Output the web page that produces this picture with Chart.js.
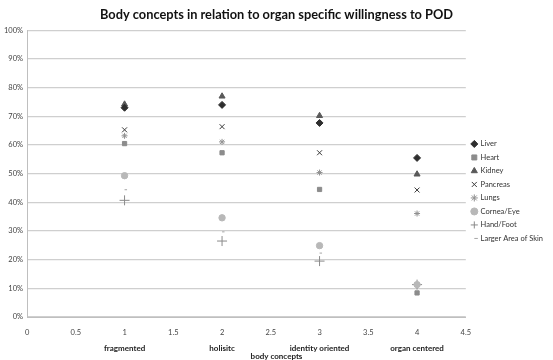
<!DOCTYPE html>
<html>
<head>
<meta charset="utf-8">
<script src="https://cdn.jsdelivr.net/npm/chart.js@4"></script>
<style>
  html, body { margin: 0; padding: 0; background: #fff; }
  #wrap { width: 553px; height: 360px; }
</style>
</head>
<body>
<div id="wrap"><canvas id="chart"></canvas></div>
<script>
// body concept categories (x = 1..4)
const categories = ['fragmented', 'holisitc', 'identity oriented', 'organ centered'];
const xValues = [1, 2, 3, 4];
const xAxisTitle = 'body concepts';

// share willing to donate, per organ
const liver    = [0.730, 0.740, 0.677, 0.555];
const heart    = [0.605, 0.573, 0.445, 0.084];
const kidney   = [0.742, 0.770, 0.702, 0.498];
const pancreas = [0.653, 0.664, 0.573, 0.443];
const lungs    = [0.632, 0.611, 0.504, 0.361];
const cornea   = [0.493, 0.346, 0.249, 0.113];
const handFoot = [0.407, 0.265, 0.195, 0.113];
const skin     = [0.444, 0.297, 0.223, 0.110];

const font = 'Lato, "Liberation Sans", sans-serif';

function pts(vals) {
  return vals.map((v, i) => ({ x: xValues[i], y: v }));
}

function series(label, vals, style, color, radius) {
  return {
    label: label,
    data: pts(vals),
    pointStyle: style,
    backgroundColor: color,
    borderColor: color,
    pointRadius: radius,
    pointHoverRadius: radius,
    pointBorderWidth: 1,
    showLine: false
  };
}

const datasets = [
  series('Liver', liver, 'rectRot', '#2e2e2e', 3.5),
  series('Heart', heart, 'rect', '#8c8c8c', 3),
  series('Kidney', kidney, 'triangle', '#595959', 3.5),
  series('Pancreas', pancreas, 'crossRot', '#3a3a3a', 3.5),
  series('Lungs', lungs, 'star', '#909090', 3),
  series('Cornea/Eye', cornea, 'circle', '#b8b8b8', 3.2),
  series('Hand/Foot', handFoot, 'cross', '#8a8a8a', 5),
  series('Larger Area of Skin', skin, 'dash', '#a6a6a6', 2.5)
];

// category names below the numeric x ticks, plus the axis title
const categoryLabels = {
  id: 'categoryLabels',
  afterDraw(chart) {
    const ctx = chart.ctx;
    const xs = chart.scales.x;
    const bottom = chart.chartArea.bottom;
    ctx.save();
    ctx.font = 'bold 8px ' + font;
    ctx.fillStyle = '#222';
    ctx.textAlign = 'center';
    ctx.textBaseline = 'middle';
    categories.forEach((c, i) => {
      ctx.fillText(c, xs.getPixelForValue(xValues[i]), bottom + 31);
    });
    ctx.fillText(xAxisTitle, chart.width / 2, bottom + 39);
    ctx.restore();
  }
};

new Chart(document.getElementById('chart'), {
  type: 'scatter',
  data: { datasets: datasets },
  plugins: [categoryLabels],
  options: {
    responsive: true,
    maintainAspectRatio: false,
    animation: false,
    layout: { padding: { left: 0, right: 0, top: 0, bottom: 20 } },
    plugins: {
      title: {
        display: true,
        text: 'Body concepts in relation to organ specific willingness to POD',
        color: '#111',
        font: { family: font, size: 12.8, weight: 'bold' },
        padding: { top: 7, bottom: 8 }
      },
      legend: {
        position: 'right',
        align: 'center',
        title: { display: true, text: ' ', font: { size: 2 }, padding: 20 },
        labels: {
          usePointStyle: true,
          boxWidth: 5,
          boxHeight: 5,
          padding: 6,
          color: '#333',
          font: { family: font, size: 7.5 }
        }
      },
      tooltip: { enabled: false }
    },
    scales: {
      x: {
        type: 'linear',
        min: 0,
        max: 4.5,
        ticks: {
          stepSize: 0.5,
          color: '#444',
          font: { family: font, size: 7.5 },
          padding: 3,
          callback: v => String(v)
        },
        grid: { display: false },
        border: { display: true, color: '#bfbfbf', width: 1 }
      },
      y: {
        min: 0,
        max: 1,
        ticks: {
          stepSize: 0.1,
          color: '#444',
          font: { family: font, size: 7.5 },
          padding: 4,
          callback: v => Math.round(v * 100) + '%'
        },
        grid: { color: '#cfcfcf', lineWidth: 1.2, drawTicks: false },
        border: { display: true, color: '#bfbfbf', width: 1 }
      }
    }
  }
});
</script>
</body>
</html>
